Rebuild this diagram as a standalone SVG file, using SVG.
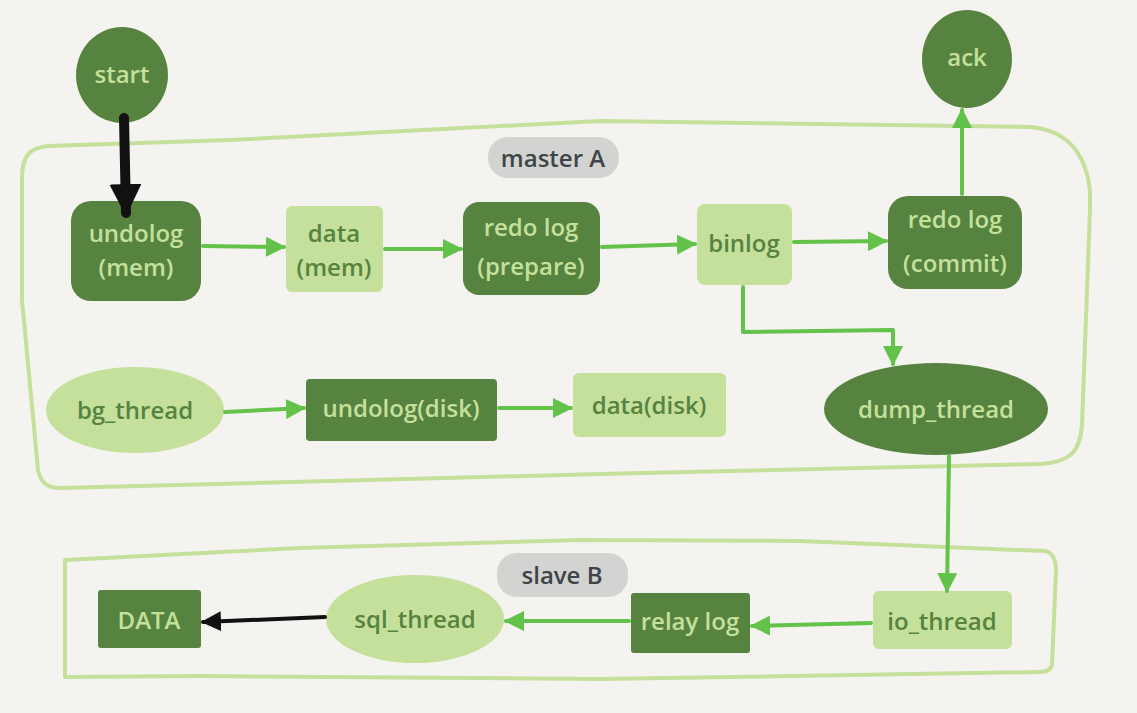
<svg xmlns="http://www.w3.org/2000/svg" width="1137" height="713" viewBox="0 0 1137 713">
<defs>
<style>
.bg{fill:#f4f3ef}
.dark{fill:#568340}
.light{fill:#c5e09b}
.frame{fill:none;stroke:#c5e09b;stroke-width:4;stroke-linejoin:round}
.pill{fill:#d3d3d1}
.pt{fill:#3e4548;font-family:"Open Sans","Liberation Sans",sans-serif;font-size:24px;font-weight:600;text-anchor:middle}
.tl{fill:#c5e09b;font-family:"Open Sans","Liberation Sans",sans-serif;font-size:24px;font-weight:600;text-anchor:middle}
.td{fill:#568340;font-family:"Open Sans","Liberation Sans",sans-serif;font-size:24px;font-weight:600;text-anchor:middle}
.ga{fill:none;stroke:#62c24a;stroke-width:4;stroke-linecap:round;stroke-linejoin:round;marker-end:url(#gh)}
.ka{fill:none;stroke:#111;stroke-linecap:round}
</style>
<marker id="gh" viewBox="0 0 10 10" refX="9" refY="5" markerWidth="5" markerHeight="5" orient="auto" markerUnits="strokeWidth">
<path d="M0,0 L10,5 L0,10 z" fill="#62c24a"/>
</marker>
<marker id="kh" viewBox="0 0 10 10" refX="9" refY="5" markerWidth="3.2" markerHeight="3.2" orient="auto" markerUnits="strokeWidth">
<path d="M0,0 L10,5 L0,10 z" fill="#111"/>
</marker>
<marker id="kh2" viewBox="0 0 10 10" refX="9" refY="5" markerWidth="5" markerHeight="5" orient="auto" markerUnits="strokeWidth">
<path d="M0,0 L10,5 L0,10 z" fill="#111"/>
</marker>
</defs>
<rect class="bg" x="0" y="0" width="1137" height="713"/>

<g id="masterA">
<path class="frame" d="M22,178 C22,155 30,148 48,146 L230,140 L600,121 L1030,127 C1065,130 1085,150 1090,190 L1090,210 L1082,425 C1080,452 1070,462 1040,464 L600,474 L60,488 C45,488 40,480 38,470 L22,300 Z"/>
<rect class="pill" x="488" y="137" width="131" height="41" rx="20"/>
<text class="pt" x="553" y="167">master A</text>
</g>

<g id="slaveB">
<path class="frame" d="M65,560 L300,548 L580,540 L800,541 L1045,551 C1052,552 1056,560 1056,570 L1052,665 C1051,670 1046,672 1040,672 L600,679 L200,676 L65,677 Z"/>
<rect class="pill" x="497" y="553" width="131" height="44" rx="20"/>
<text class="pt" x="562" y="584">slave B</text>
</g>

<g id="start">
<ellipse class="dark" cx="122" cy="75" rx="46" ry="48"/>
<text class="tl" x="122" y="83">start</text>
</g>

<g id="ack">
<ellipse class="dark" cx="967" cy="59" rx="45" ry="49"/>
<text class="tl" x="967" y="66">ack</text>
</g>

<g id="undolog_mem">
<rect class="dark" x="71" y="201" width="130" height="100" rx="20"/>
<text class="tl" x="136" y="242">undolog</text>
<text class="tl" x="136" y="276">(mem)</text>
</g>

<g id="data_mem">
<rect class="light" x="286" y="206" width="97" height="86" rx="6"/>
<text class="td" x="334" y="242">data</text>
<text class="td" x="334" y="276">(mem)</text>
</g>

<g id="redo_prepare">
<rect class="dark" x="463" y="202" width="137" height="93" rx="16"/>
<text class="tl" x="531" y="236">redo log</text>
<text class="tl" x="531" y="275">(prepare)</text>
</g>

<g id="binlog">
<rect class="light" x="697" y="204" width="95" height="81" rx="8"/>
<text class="td" x="744" y="252">binlog</text>
</g>

<g id="redo_commit">
<rect class="dark" x="888" y="196" width="134" height="93" rx="20"/>
<text class="tl" x="955" y="228">redo log</text>
<text class="tl" x="955" y="272">(commit)</text>
</g>

<g id="bg_thread">
<ellipse class="light" cx="135" cy="410" rx="89" ry="43"/>
<text class="td" x="135" y="419">bg_thread</text>
</g>

<g id="undolog_disk">
<rect class="dark" x="306" y="379" width="191" height="62" rx="4"/>
<text class="tl" x="401" y="417">undolog(disk)</text>
</g>

<g id="data_disk">
<rect class="light" x="573" y="373" width="153" height="64" rx="6"/>
<text class="td" x="649" y="414">data(disk)</text>
</g>

<g id="dump_thread">
<ellipse class="dark" cx="936" cy="409" rx="112" ry="46"/>
<text class="tl" x="936" y="418">dump_thread</text>
</g>

<g id="DATA">
<rect class="dark" x="98" y="590" width="103" height="58" rx="3"/>
<text class="tl" x="149" y="629">DATA</text>
</g>

<g id="sql_thread">
<ellipse class="light" cx="415" cy="619" rx="89" ry="44"/>
<text class="td" x="415" y="628">sql_thread</text>
</g>

<g id="relay_log">
<rect class="dark" x="631" y="593" width="119" height="60" rx="3"/>
<text class="tl" x="690" y="630">relay log</text>
</g>

<g id="io_thread">
<rect class="light" x="873" y="591" width="139" height="58" rx="6"/>
<text class="td" x="942" y="630">io_thread</text>
</g>

<g id="connectors">
<path class="ka" stroke-width="10" marker-end="url(#kh)" d="M124,118 L126,213"/>
<path class="ga" d="M203,246 L284,247"/>
<path class="ga" d="M385,249 L461,249"/>
<path class="ga" d="M602,247 L695,244"/>
<path class="ga" d="M794,242 L886,241"/>
<path class="ga" d="M962,194 L962,110"/>
<path class="ga" d="M743,287 L743,332 L893,330 L893,364"/>
<path class="ga" d="M225,412 L304,408"/>
<path class="ga" d="M499,408 L571,408"/>
<path class="ga" d="M949,456 L947,591"/>
<path class="ga" d="M871,623 L752,626"/>
<path class="ga" d="M629,621 L506,621"/>
<path class="ka" stroke-width="4" marker-end="url(#kh2)" d="M325,617 L203,622"/>
</g>
</svg>
